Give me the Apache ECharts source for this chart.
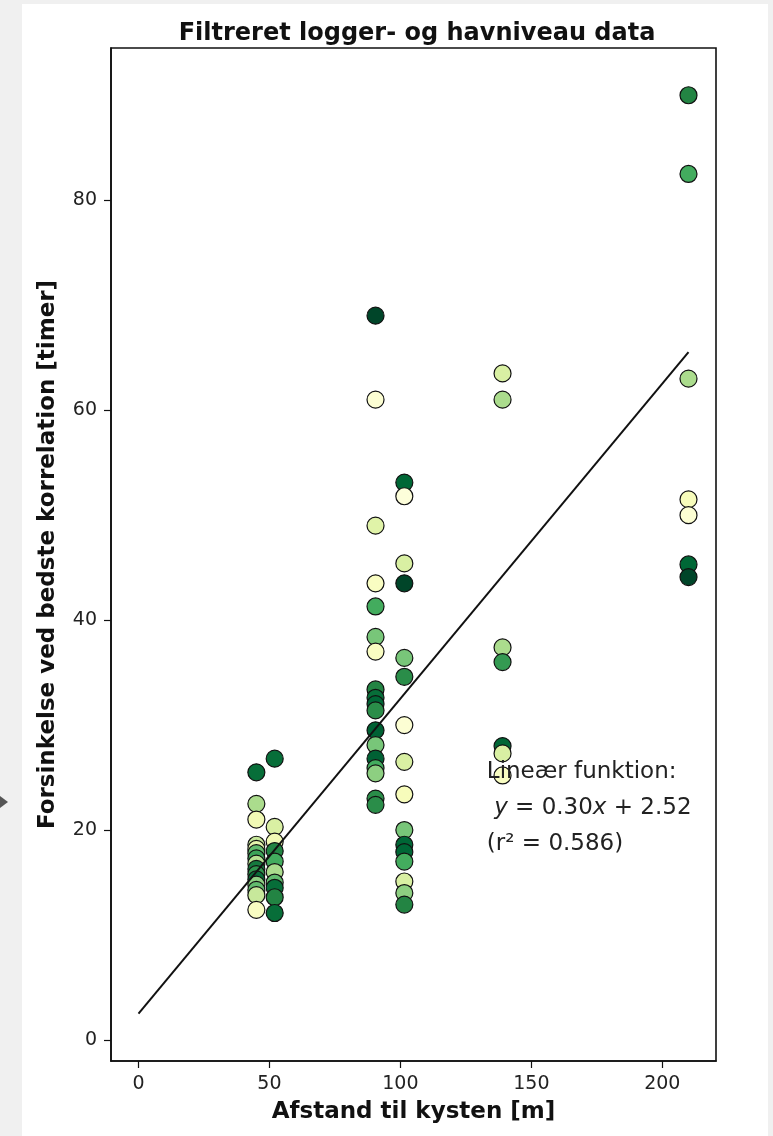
<!DOCTYPE html>
<html><head><meta charset="utf-8">
<script src="https://cdn.jsdelivr.net/npm/echarts@6/dist/echarts.min.js"></script>
<style>
html,body{margin:0;padding:0;background:#f0f0f0;overflow:hidden;}
#panel{position:absolute;left:22px;top:4px;width:746px;height:1132px;background:#fff;}
#c{position:absolute;left:0;top:0;width:773px;height:1136px;}
</style>
</head><body><div id="panel"></div><div id="c"></div>
<script>
// ---- data ----
const xTicks = [0, 50, 100, 150, 200];
const yTicks = [0, 20, 40, 60, 80];
const titleText = 'Filtreret logger- og havniveau data';
const xName = 'Afstand til kysten [m]';
const yName = 'Forsinkelse ved bedste korrelation [timer]';

const xs = [
  45,45,45,45,45,45,45,45,45,45,45,45,45,45,45,
  52,52,52,52,52,52,52,52,52,52,
  90.5,90.5,90.5,90.5,90.5,90.5,90.5,90.5,90.5,90.5,90.5,90.5,90.5,90.5,90.5,90.5,90.5,90.5,
  101.5,101.5,101.5,101.5,101.5,101.5,101.5,101.5,101.5,101.5,101.5,101.5,101.5,101.5,101.5,101.5,
  139,139,139,139,139,139,139,
  210,210,210,210,210,210,210
];
const ys = [
  25.5,22.5,21.0,18.6,18.2,17.8,17.3,16.8,16.3,15.8,15.3,14.8,14.3,13.8,12.4,
  26.8,20.3,18.9,18.0,17.0,16.0,15.0,14.5,13.6,12.1,
  69.0,61.0,49.0,43.5,41.3,38.4,37.0,33.4,32.6,32.0,31.4,29.5,28.1,26.8,25.9,25.4,23.0,22.4,
  53.1,51.8,45.4,43.5,36.4,34.6,30.0,26.5,23.4,20.0,18.6,17.9,17.0,15.1,14.0,12.9,
  63.5,61.0,37.4,36.0,28.0,27.3,25.2,
  90.0,82.5,63.0,51.5,50.0,45.3,44.1
];
const cs = [
  0.85,0.38,0.15,0.30,0.20,0.55,0.65,0.35,0.80,0.70,0.85,0.45,0.55,0.30,0.10,
  0.85,0.25,0.15,0.75,0.62,0.38,0.55,0.85,0.75,0.85,
  1.00,0.05,0.22,0.10,0.62,0.50,0.10,0.75,0.85,0.88,0.72,0.90,0.50,0.90,0.62,0.45,0.72,0.72,
  0.88,0.03,0.25,1.00,0.50,0.72,0.05,0.25,0.12,0.50,0.88,0.88,0.62,0.25,0.45,0.75,
  0.25,0.38,0.38,0.68,0.88,0.25,0.10,
  0.75,0.62,0.38,0.12,0.05,0.88,1.00
];
const fitX = [0, 210];
const fitY = [2.52, 65.52];
const annLines = ['Lineær funktion:', 'y = 0.30x + 2.52', '(r² = 0.586)'];
const annAnchor = [133, 26.6];

const ylgn = ['#ffffe5','#f7fcb9','#d9f0a3','#addd8e','#78c679','#41ab5d','#238443','#006837','#004529'];

const chart = echarts.init(document.getElementById('c'), null, {renderer: 'canvas'});
const FONT = 'DejaVu Sans';
chart.setOption({
  animation: false,
  backgroundColor: 'transparent',
  textStyle: {fontFamily: FONT},
  title: {
    text: titleText, left: 412, top: 17, textAlign: 'center',
    textStyle: {fontFamily: FONT, fontWeight: 'bold', fontSize: 24, color: '#111'}
  },
  grid: {left: 111, right: 57, top: 48, bottom: 75, show: true,
         borderColor: '#111', borderWidth: 1.6, backgroundColor: 'transparent'},
  visualMap: {type: 'continuous', show: false, min: 0, max: 1, dimension: 2,
              seriesIndex: 0, inRange: {color: ylgn}},
  xAxis: {
    type: 'value', min: -10.5, max: 220.5,
    splitLine: {show: false},
    axisLine: {show: true, onZero: false, lineStyle: {color: '#111', width: 1.6}},
    axisTick: {show: true, length: 7, customValues: xTicks, lineStyle: {color: '#111', width: 1.2}},
    axisLabel: {customValues: xTicks, fontSize: 19, color: '#222', margin: 14, fontFamily: FONT},
    name: xName, nameLocation: 'middle', nameGap: 40,
    nameTextStyle: {fontFamily: FONT, fontWeight: 'bold', fontSize: 23, color: '#111'}
  },
  yAxis: {
    type: 'value', min: -2, max: 94.5,
    splitLine: {show: false},
    axisLine: {show: true, onZero: false, lineStyle: {color: '#111', width: 1.6}},
    axisTick: {show: true, length: 7, customValues: yTicks, lineStyle: {color: '#111', width: 1.2}},
    axisLabel: {customValues: yTicks, fontSize: 19, color: '#222', margin: 14, fontFamily: FONT},
    name: yName, nameLocation: 'middle', nameGap: 51,
    nameTextStyle: {fontFamily: FONT, fontWeight: 'bold', fontSize: 23, color: '#111'}
  },
  series: [
    {
      type: 'scatter', z: 2,
      data: xs.map((x, i) => [x, ys[i], cs[i]]),
      symbol: 'circle', symbolSize: 17,
      itemStyle: {borderColor: '#111', borderWidth: 1.2, opacity: 1}
    },
    {
      type: 'line', z: 5,
      data: fitX.map((x, i) => [x, fitY[i]]),
      symbol: 'none', silent: true,
      lineStyle: {color: '#111', width: 2}
    }
  ]
});

const p = chart.convertToPixel({xAxisIndex: 0, yAxisIndex: 0}, annAnchor);
chart.setOption({
  graphic: [
    {
      type: 'text', left: p[0], top: p[1], z: 100,
      style: {
        text: '{n|' + annLines[0] + '}\n{n| }{i|y}{n| = 0.30}{i|x}{n| + 2.52}\n{n|(r² = 0.586)}',
        fill: '#222',
        rich: {
          n: {fontFamily: FONT, fontSize: 23, lineHeight: 36, fill: '#222'},
          i: {fontFamily: FONT, fontStyle: 'italic', fontSize: 23, lineHeight: 36, fill: '#222'}
        }
      }
    },
    {
      type: 'polygon', z: 100,
      shape: {points: [[0, 796], [8, 802], [0, 808]]},
      style: {fill: '#555'}
    }
  ]
});
</script>
</body></html>
